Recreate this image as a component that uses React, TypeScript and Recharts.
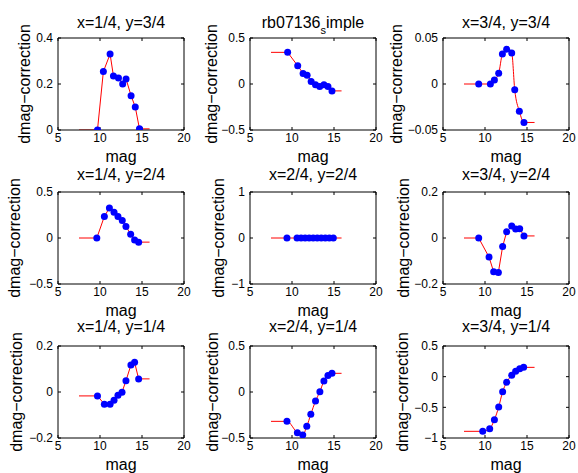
import React from "react";
import {
  ComposedChart,
  Line,
  Scatter,
  XAxis,
  YAxis,
} from "recharts";

// x axis (mag) ticks shared by every panel
const magTicks = [5, 10, 15, 20];
// the red fit line runs flat out to these magnitudes
const fitStart = 7.5;
const fitEnd = 15.9;

// panel x=1/4, y=3/4
const magA = [9.7, 10.4, 11.2, 11.6, 12.2, 12.7, 13.1, 13.7, 14.2, 14.7];
const dmagA = [0, 0.254, 0.33, 0.235, 0.226, 0.2, 0.222, 0.149, 0.1, 0.005];
const ticksA = [0, 0.2, 0.4];

// panel rb07136_simple (centre top)
const magB = [9.48, 10.68, 11.32, 11.8, 12.28, 12.8, 13.3, 13.8, 14.28, 14.76];
const dmagB = [0.344, 0.198, 0.115, 0.096, 0.027, -0.009, -0.027, -0.009, -0.027, -0.075];
const ticksB = [-0.5, 0, 0.5];

// panel x=3/4, y=3/4
const magC = [9.25, 10.64, 11.12, 11.63, 12.07, 12.58, 13.18, 13.54, 14.09, 14.64];
const dmagC = [0, 0, 0.0044, 0.0116, 0.0327, 0.0378, 0.0338, -0.0062, -0.0295, -0.0418];
const ticksC = [-0.05, 0, 0.05];

// panel x=1/4, y=2/4
const magD = [9.62, 10.52, 11.12, 11.67, 12.14, 12.65, 13.09, 13.65, 14.12, 14.6];
const dmagD = [0, 0.234, 0.327, 0.28, 0.234, 0.19, 0.126, 0.04, -0.022, -0.045];
const ticksD = [-0.5, 0, 0.5];

// panel x=2/4, y=2/4
const magE = [9.4, 10.6, 11.08, 11.56, 12.04, 12.52, 13.0, 13.48, 13.96, 14.44, 14.92];
const dmagE = [0, 0, 0, 0, 0, 0, 0, 0, 0, 0, 0];
const ticksE = [-1, 0, 1];

// panel x=3/4, y=2/4
const magF = [9.25, 10.48, 11.03, 11.59, 12.1, 12.58, 13.18, 13.65, 14.13, 14.64];
const dmagF = [0, -0.083, -0.147, -0.15, -0.037, 0.027, 0.052, 0.039, 0.04, 0.009];
const ticksF = [-0.2, 0, 0.2];

// panel x=1/4, y=1/4
const magG = [9.7, 10.52, 11.2, 11.67, 12.14, 12.62, 13.09, 13.68, 14.12, 14.6];
const dmagG = [-0.017, -0.053, -0.053, -0.036, -0.014, -0.001, 0.049, 0.117, 0.129, 0.057];
const ticksG = [-0.2, 0, 0.2];

// panel x=2/4, y=1/4
const magH = [9.4, 10.64, 11.28, 11.76, 12.24, 12.8, 13.32, 13.8, 14.28, 14.76];
const dmagH = [-0.319, -0.442, -0.467, -0.373, -0.243, -0.098, 0.004, 0.12, 0.178, 0.203];
const ticksH = [-0.5, 0, 0.5];

// panel x=3/4, y=1/4
const magI = [9.73, 10.56, 11.12, 11.63, 12.1, 12.58, 13.18, 13.65, 14.13, 14.6];
const dmagI = [-0.891, -0.848, -0.701, -0.495, -0.245, -0.092, 0.022, 0.087, 0.13, 0.152];
const ticksI = [-1, -0.5, 0, 0.5];

const FONT = '"Liberation Sans", Arial, Helvetica, sans-serif';
const COL_LEFT = [58, 250, 443];
const ROW_TOP = [38, 192, 346];
const TITLE_Y = [23, 175, 327];
const BOX_W = 126;
const BOX_H = 92;

interface PanelDef {
  title: React.ReactNode;
  mag: number[];
  dmag: number[];
  ticks: number[];
  row: number;
  col: number;
  ylabGap: number;
  smooth?: boolean;
}

const panels: PanelDef[] = [
  { title: "x=1/4, y=3/4", mag: magA, dmag: dmagA, ticks: ticksA, row: 0, col: 0, ylabGap: 33 },
  {
    title: (
      <span>
        rb07136
        <span style={{ fontSize: 11, position: "relative", top: 6 }}>s</span>
        imple
      </span>
    ),
    mag: magB, dmag: dmagB, ticks: ticksB, row: 0, col: 1, ylabGap: 38,
  },
  { title: "x=3/4, y=3/4", mag: magC, dmag: dmagC, ticks: ticksC, row: 0, col: 2, ylabGap: 46, smooth: true },
  { title: "x=1/4, y=2/4", mag: magD, dmag: dmagD, ticks: ticksD, row: 1, col: 0, ylabGap: 43 },
  { title: "x=2/4, y=2/4", mag: magE, dmag: dmagE, ticks: ticksE, row: 1, col: 1, ylabGap: 31 },
  { title: "x=3/4, y=2/4", mag: magF, dmag: dmagF, ticks: ticksF, row: 1, col: 2, ylabGap: 39 },
  { title: "x=1/4, y=1/4", mag: magG, dmag: dmagG, ticks: ticksG, row: 2, col: 0, ylabGap: 41 },
  { title: "x=2/4, y=1/4", mag: magH, dmag: dmagH, ticks: ticksH, row: 2, col: 1, ylabGap: 37, smooth: true },
  { title: "x=3/4, y=1/4", mag: magI, dmag: dmagI, ticks: ticksI, row: 2, col: 2, ylabGap: 40, smooth: true },
];

const fmt = (v: number) => (v < 0 ? "\u2212" + Math.abs(v) : String(v));
const blank = () => "";

const Dot = (props: any) => (
  <circle cx={props.cx} cy={props.cy} r={3.5} fill="#0000ff" />
);

const Panel: React.FC<{ p: PanelDef }> = ({ p }) => {
  const left = COL_LEFT[p.col];
  const top = ROW_TOP[p.row];
  const pts = p.mag.map((x, i) => ({ x, y: p.dmag[i] }));
  const fit = [
    { x: fitStart, y: p.dmag[0] },
    ...pts,
    { x: fitEnd, y: p.dmag[p.dmag.length - 1] },
  ];
  const domain = [p.ticks[0], p.ticks[p.ticks.length - 1]];
  const cx = left + BOX_W / 2;

  return (
    <>
      <div style={{ position: "absolute", left: left - 50, top: top - 10 }}>
        <ComposedChart
          width={BOX_W + 60}
          height={BOX_H + 30}
          margin={{ top: 9, right: 9, bottom: 0, left: 0 }}
        >
          <XAxis
            xAxisId="b"
            type="number"
            dataKey="x"
            domain={[5, 20]}
            ticks={magTicks}
            height={20}
            tickSize={-3}
            tickMargin={6}
            stroke="#000"
            tick={{ fill: "#000", fontSize: 12 }}
            allowDataOverflow
          />
          <XAxis
            xAxisId="t"
            orientation="top"
            type="number"
            dataKey="x"
            domain={[5, 20]}
            ticks={magTicks}
            height={1}
            tickSize={-3}
            tickFormatter={blank}
            stroke="#000"
            allowDataOverflow
          />
          <YAxis
            yAxisId="l"
            type="number"
            dataKey="y"
            domain={domain}
            ticks={p.ticks}
            width={50}
            tickSize={-3}
            tickMargin={8}
            tickFormatter={fmt}
            stroke="#000"
            tick={{ fill: "#000", fontSize: 12 }}
            allowDataOverflow
          />
          <YAxis
            yAxisId="r"
            orientation="right"
            type="number"
            dataKey="y"
            domain={domain}
            ticks={p.ticks}
            width={1}
            tickSize={-3}
            tickFormatter={blank}
            stroke="#000"
            allowDataOverflow
          />
          <Scatter
            xAxisId="b"
            yAxisId="l"
            data={pts}
            dataKey="y"
            shape={Dot}
            isAnimationActive={false}
          />
          <Line
            xAxisId="b"
            yAxisId="l"
            data={fit}
            dataKey="y"
            type={p.smooth ? "monotone" : "linear"}
            stroke="#ff0000"
            strokeWidth={1}
            dot={false}
            activeDot={false}
            isAnimationActive={false}
          />
        </ComposedChart>
      </div>
      <div
        style={{
          position: "absolute",
          left: cx,
          top: TITLE_Y[p.row],
          transform: "translate(-50%, -50%)",
          fontSize: 16,
          lineHeight: 1,
          whiteSpace: "nowrap",
        }}
      >
        {p.title}
      </div>
      <div
        style={{
          position: "absolute",
          left: cx,
          top: top + BOX_H + 27,
          transform: "translate(-50%, -50%)",
          fontSize: 16,
          lineHeight: 1,
          whiteSpace: "nowrap",
        }}
      >
        mag
      </div>
      <div
        style={{
          position: "absolute",
          left: left - p.ylabGap,
          top: top + BOX_H / 2,
          transform: "translate(-50%, -50%) rotate(-90deg)",
          fontSize: 16,
          lineHeight: 1,
          whiteSpace: "nowrap",
        }}
      >
        dmag{"\u2212"}correction
      </div>
    </>
  );
};

export default function App() {
  return (
    <div
      style={{
        position: "absolute",
        left: 0,
        top: 0,
        width: 578,
        height: 473,
        background: "#fff",
        overflow: "hidden",
        fontFamily: FONT,
        color: "#000",
      }}
    >
      {panels.map((p, i) => (
        <Panel key={i} p={p} />
      ))}
    </div>
  );
}
